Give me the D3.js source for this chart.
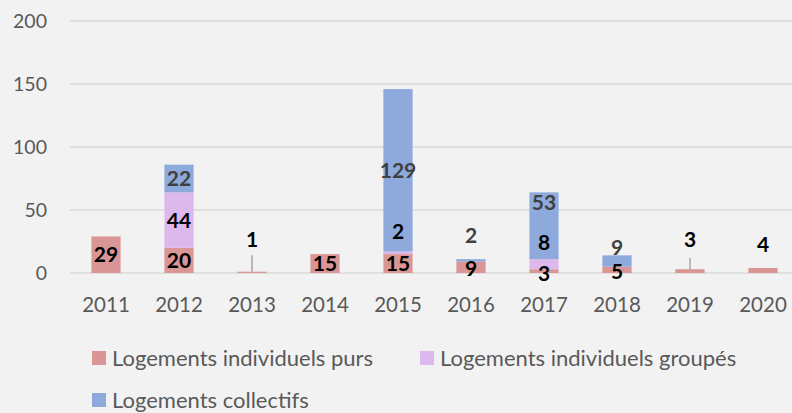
<!DOCTYPE html>
<html lang="fr">
<head>
<meta charset="UTF-8">
<script src="https://d3js.org/d3.v7.min.js"></script>
<style>
  body { margin: 0; background: #f2f2f2; }
  svg { display: block; font-family: Lato, "Open Sans", sans-serif; }
</style>
</head>
<body>
<div id="chart"></div>
<script>
// Data
const years = ["2011", "2012", "2013", "2014", "2015", "2016", "2017", "2018", "2019", "2020"];
const seriesNames = ["Logements individuels purs", "Logements individuels groupés", "Logements collectifs"];
const purs = [29, 20, 1, 15, 15, 9, 3, 5, 3, 4];
const groupes = [0, 44, 0, 0, 2, 0, 8, 0, 0, 0];
const collectifs = [0, 22, 0, 0, 129, 2, 53, 9, 0, 0];
const yTicks = [0, 50, 100, 150, 200];

// labels that Excel moved away from the segment centre (value units, null = centred)
const pursLabelAt = [null, null, 27, null, null, 3.6, 0, 1, 27, 23];
const groupesLabelAt = [null, null, null, null, 33, null, 24, null, null, null];
const collectifsLabelAt = [null, null, null, null, null, 30, 56, 20, null, null];
// leader lines: [year, top value]
const leaders = [["2013", 14], ["2019", 12]];

const width = 792, height = 413;
const colors = ["#d99694", "#ddb8ec", "#8eaadc"];
const labelColors = ["#000", "#000", "#404040"];

const svg = d3.select("#chart").append("svg")
  .attr("width", width)
  .attr("height", height);

svg.append("rect")
  .attr("width", width)
  .attr("height", height)
  .attr("fill", "#f2f2f2");

const x = d3.scaleBand()
  .domain(years)
  .range([69.5, 799.5])
  .paddingInner(0.6)
  .paddingOuter(0.3);

const y = d3.scaleLinear()
  .domain([0, 200])
  .range([273, 21]);

// grid
svg.append("g").selectAll("line")
  .data(yTicks)
  .join("line")
  .attr("x1", 70).attr("x2", width)
  .attr("y1", d => y(d)).attr("y2", d => y(d))
  .attr("stroke", "#d9d9d9")
  .attr("stroke-width", 1.5);

svg.append("g").selectAll("text")
  .data(yTicks)
  .join("text")
  .attr("x", 47)
  .attr("y", d => y(d))
  .attr("dy", "0.36em")
  .attr("text-anchor", "end")
  .attr("font-size", 19.5)
  .attr("fill", "#595959")
  .text(d => d);

svg.append("g").selectAll("text")
  .data(years)
  .join("text")
  .attr("x", d => x(d) + x.bandwidth() / 2)
  .attr("y", 305)
  .attr("dy", "0.36em")
  .attr("text-anchor", "middle")
  .attr("font-size", 20.5)
  .attr("fill", "#595959")
  .text(d => d);

// stacked bars
const table = years.map((yr, i) => ({ year: yr, s0: purs[i], s1: groupes[i], s2: collectifs[i] }));
const stack = d3.stack().keys(["s0", "s1", "s2"])(table);
const labelAt = [pursLabelAt, groupesLabelAt, collectifsLabelAt];

const layer = svg.append("g").selectAll("g")
  .data(stack)
  .join("g")
  .attr("fill", (d, i) => colors[i]);

layer.selectAll("rect")
  .data(d => d)
  .join("rect")
  .attr("x", d => x(d.data.year))
  .attr("width", x.bandwidth())
  .attr("y", d => y(d[1]))
  .attr("height", d => y(d[0]) - y(d[1]));

// leader lines
svg.append("g").selectAll("line")
  .data(leaders)
  .join("line")
  .attr("x1", d => x(d[0]) + x.bandwidth() / 2)
  .attr("x2", d => x(d[0]) + x.bandwidth() / 2)
  .attr("y1", d => y(purs[years.indexOf(d[0])]))
  .attr("y2", d => y(d[1]))
  .attr("stroke", "#a6a6a6")
  .attr("stroke-width", 1.5);

// data labels
stack.forEach((s, si) => {
  svg.append("g").selectAll("text")
    .data(s.filter(d => d[1] - d[0] > 0))
    .join("text")
    .attr("x", d => x(d.data.year) + x.bandwidth() / 2)
    .attr("y", d => {
      const at = labelAt[si][years.indexOf(d.data.year)];
      return y(at === null ? (d[0] + d[1]) / 2 : at);
    })
    .attr("dy", "0.36em")
    .attr("text-anchor", "middle")
    .attr("font-size", 21)
    .attr("font-weight", "bold")
    .attr("fill", labelColors[si])
    .text(d => d[1] - d[0]);
});

// legend
const legendPos = [[92, 358], [420, 358], [92, 400]];
const legend = svg.append("g").selectAll("g")
  .data(seriesNames)
  .join("g")
  .attr("transform", (d, i) => `translate(${legendPos[i][0]},${legendPos[i][1]})`);

legend.append("rect")
  .attr("y", -7)
  .attr("width", 14)
  .attr("height", 14)
  .attr("fill", (d, i) => colors[i]);

legend.append("text")
  .attr("x", 20)
  .attr("dy", "0.36em")
  .attr("font-size", 22)
  .attr("fill", "#595959")
  .text(d => d);
</script>
</body>
</html>
